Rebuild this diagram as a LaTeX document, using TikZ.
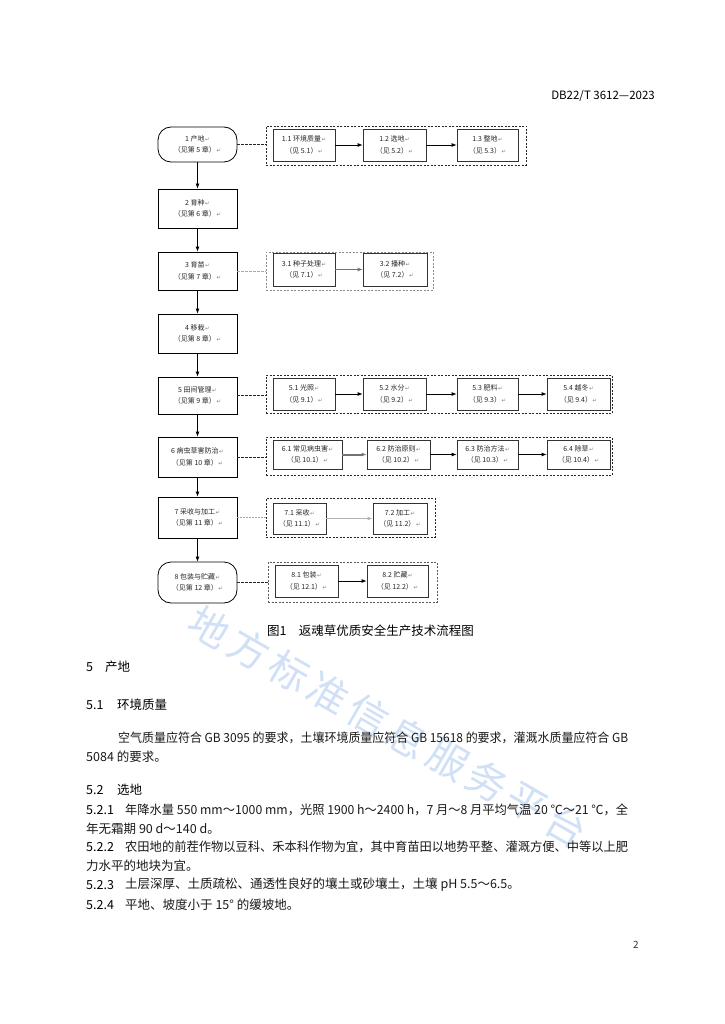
\documentclass[tikz,border=0pt]{standalone}
\usepackage{fontspec}
\setmainfont{Noto Sans CJK SC}
\newfontfamily\djv{DejaVu Sans}
\usetikzlibrary{arrows.meta}
\definecolor{wm}{RGB}{208,224,246}
\newcommand\rt{{\djv\color{black!50}\kern0.6pt\fontsize{5.5}{6}\selectfont↵}}
\tikzset{
 boxfont/.style={font=\fontsize{7}{11.5}\selectfont, text=black!85},
 mainbox/.style={draw=black, line width=0.8pt, minimum width=79pt, minimum height=38pt, inner sep=0pt, align=center, boxfont},
 roundbox/.style={mainbox, rounded corners=13pt},
 subbox/.style={draw=black!80, line width=0.8pt, minimum height=32pt, inner sep=0pt, align=center, boxfont},
 grp/.style={draw=black!85, dash pattern=on 2pt off 1.5pt, line width=0.7pt, inner sep=0pt},
 flow/.style={-{Latex[length=5pt,width=4pt]}, line width=0.8pt, draw=black},
 flowgray/.style={flow, draw=black!55},
 flowthick/.style={flow, draw=black!55, line width=2pt},
 flowlight/.style={flow, draw=black!30, line width=1.6pt},
 link/.style={dash pattern=on 2.5pt off 1.5pt, line width=0.7pt, draw=black!85},
 linklight/.style={link, draw=black!35},
 body/.style={anchor=west, inner sep=0pt, font=\fontsize{12.5}{15}\selectfont, text=black!90},
 head/.style={anchor=west, inner sep=0pt, font=\fontsize{12.5}{15}\selectfont, text=black},
 wmk/.style={font=\fontsize{40}{40}\selectfont, text=wm, rotate=-30, inner sep=0pt},
}
\begin{document}
\begin{tikzpicture}[x=1pt,y=-1pt]
\fill[white] (0,0) rectangle (724,1024);
\useasboundingbox (0,0) rectangle (724,1024);

% watermark
\foreach \c [count=\i from 0] in {地,方,标,准,信,息,服,务,平,台}
  \node[wmk] (w\i) at ({210+\i*39.6},{627+\i*22.1}) {\c};

% header
\node[anchor=east, inner sep=0pt, font=\fontsize{11.5}{13}\selectfont] (hdr) at (655,96) {DB22/T 3612—2023};

% main column
\node[roundbox, minimum height=35pt] (m1) at (197.5,144.5) {1 产地\rt\\（见第 5 章）\rt};
\node[mainbox, minimum height=39pt] (m2) at (197.5,208.5) {2 育种\rt\\（见第 6 章）\rt};
\node[mainbox] (m3) at (197.5,271) {3 育苗\rt\\（见第 7 章）\rt};
\node[mainbox, minimum height=39pt] (m4) at (197.5,333.5) {4 移栽\rt\\（见第 8 章）\rt};
\node[mainbox, minimum height=37pt] (m5) at (197.5,395.5) {5 田间管理\rt\\（见第 9 章）\rt};
\node[mainbox, minimum height=40pt] (m6) at (197.5,457) {6 病虫草害防治\rt\\（见第 10 章）\rt};
\node[mainbox, minimum height=41pt] (m7) at (197.5,517.5) {7 采收与加工\rt\\（见第 11 章）\rt};
\node[roundbox, minimum height=41pt] (m8) at (197.5,582.5) {8 包装与贮藏\rt\\（见第 12 章）\rt};

\foreach \a/\b in {m1/m2,m2/m3,m3/m4,m4/m5,m5/m6,m6/m7,m7/m8}
  \draw[flow] (\a) -- (\b);

% groups
\node[grp, minimum width=260pt, minimum height=39pt] (g1) at (396,145.5) {};
\node[grp, draw=black!45, minimum width=167pt, minimum height=38pt] (g3) at (349.5,271) {};
\node[grp, minimum width=346pt, minimum height=38pt] (g5) at (439,394) {};
\node[grp, minimum width=346pt, minimum height=38pt] (g6) at (439,456) {};
\node[grp, minimum width=169pt, minimum height=39pt] (g7) at (350.5,517.5) {};
\node[grp, draw=black!65, minimum width=169pt, minimum height=40pt] (g8) at (352.5,582) {};

\draw[link] (m1.east) -- (m1.east -| g1.west);
\draw[linklight] (m3.east) -- (m3.east -| g3.west);
\draw[link] (m5.east) -- (m5.east -| g5.west);
\draw[link] (m6.east) -- (m6.east -| g6.west);
\draw[linklight, dash pattern=on 1.5pt off 1.5pt] (m7.east) -- (m7.east -| g7.west);
\draw[link] (m8.east) -- (m8.east -| g8.west);

% row 1
\node[subbox, minimum width=62pt] (s11) at (304,145) {1.1 环境质量\rt\\（见 5.1）\rt};
\node[subbox, minimum width=63pt] (s12) at (394.5,145) {1.2 选地\rt\\（见 5.2）\rt};
\node[subbox, minimum width=61pt] (s13) at (487.5,145) {1.3 整地\rt\\（见 5.3）\rt};
\draw[flow] (s11) -- (s12);
\draw[flow] (s12) -- (s13);

% row 3
\node[subbox, minimum width=62pt, minimum height=33pt] (s31) at (304,269.5) {3.1 种子处理\rt\\（见 7.1）\rt};
\node[subbox, minimum width=64pt, minimum height=33pt] (s32) at (395,269.5) {3.2 播种\rt\\（见 7.2）\rt};
\draw[flowgray] (s31) -- (s32);

% row 5
\node[subbox, minimum width=62pt] (s51) at (304,394) {5.1 光照\rt\\（见 9.1）\rt};
\node[subbox, minimum width=63pt] (s52) at (394.5,394) {5.2 水分\rt\\（见 9.2）\rt};
\node[subbox, minimum width=61pt] (s53) at (487.5,394) {5.3 肥料\rt\\（见 9.3）\rt};
\node[subbox, minimum width=63pt] (s54) at (578.5,394) {5.4 越冬\rt\\（见 9.4）\rt};
\draw[flow] (s51) -- (s52);
\draw[flow] (s52) -- (s53);
\draw[flow] (s53) -- (s54);

% row 6
\node[subbox, minimum width=69pt, minimum height=29pt] (s61) at (307.5,454.5) {6.1 常见病虫害\rt\\（见 10.1）\rt};
\node[subbox, minimum width=63pt, minimum height=29pt] (s62) at (398.5,454.5) {6.2 防治原则\rt\\（见 10.2）\rt};
\node[subbox, minimum width=61pt, minimum height=29pt] (s63) at (487.5,454.5) {6.3 防治方法\rt\\（见 10.3）\rt};
\node[subbox, minimum width=63pt, minimum height=29pt] (s64) at (578.5,454.5) {6.4 除草\rt\\（见 10.4）\rt};
\draw[flowthick] (s61) -- (s62);
\draw[flow] (s62) -- (s63);
\draw[flow] (s63) -- (s64);

% row 7
\node[subbox, minimum width=53pt, minimum height=31pt] (s71) at (299.5,518.5) {7.1 采收\rt\\（见 11.1）\rt};
\node[subbox, minimum width=54pt, minimum height=31pt] (s72) at (400,518.5) {7.2 加工\rt\\（见 11.2）\rt};
\draw[flowlight] (s71) -- (s72);

% row 8
\node[subbox, minimum width=63pt] (s81) at (306.5,581) {8.1 包装\rt\\（见 12.1）\rt};
\node[subbox, minimum width=61pt] (s82) at (397.5,581) {8.2 贮藏\rt\\（见 12.2）\rt};
\draw[flow] (s81) -- (s82);

% caption
\node[inner sep=0pt, font=\fontsize{12.5}{15}\selectfont] (cap) at (370.5,631) {图1\hspace{1em}返魂草优质安全生产技术流程图};

% text
\node[head] (h5n) at (86,667) {5};
\node[head] (h5t) at (105,667) {产地};
\node[head] (h51n) at (86,705) {5.1};
\node[head] (h51t) at (117,705) {环境质量};
\node[body] (p1) at (118,738) {\resizebox{510pt}{\height}{空气质量应符合 GB 3095 的要求，土壤环境质量应符合 GB 15618 的要求，灌溉水质量应符合 GB}};
\node[body] (p2) at (86,757) {5084 的要求。};
\node[head] (h52n) at (86,790) {5.2};
\node[head] (h52t) at (117,790) {选地};
\node[head] (i1n) at (86,810) {5.2.1};
\node[body] (i1t) at (125,810) {\resizebox{503pt}{\height}{年降水量 550 mm～1000 mm，光照 1900 h～2400 h，7 月～8 月平均气温 20 ℃～21 ℃，全}};
\node[body] (i1b) at (86,829) {年无霜期 90 d～140 d。};
\node[head] (i2n) at (86,847) {5.2.2};
\node[body] (i2t) at (125,847) {\resizebox{503pt}{\height}{农田地的前茬作物以豆科、禾本科作物为宜，其中育苗田以地势平整、灌溉方便、中等以上肥}};
\node[body] (i2b) at (86,866) {力水平的地块为宜。};
\node[head] (i3n) at (86,885) {5.2.3};
\node[body] (i3t) at (125,885) {土层深厚、土质疏松、通透性良好的壤土或砂壤土，土壤 pH 5.5～6.5。};
\node[head] (i4n) at (86,905) {5.2.4};
\node[body] (i4t) at (125,905) {平地、坡度小于 15° 的缓坡地。};
\node[inner sep=0pt, font=\fontsize{10}{12}\selectfont, text=black!80] (pg) at (636,945) {2};
\end{tikzpicture}
\end{document}
